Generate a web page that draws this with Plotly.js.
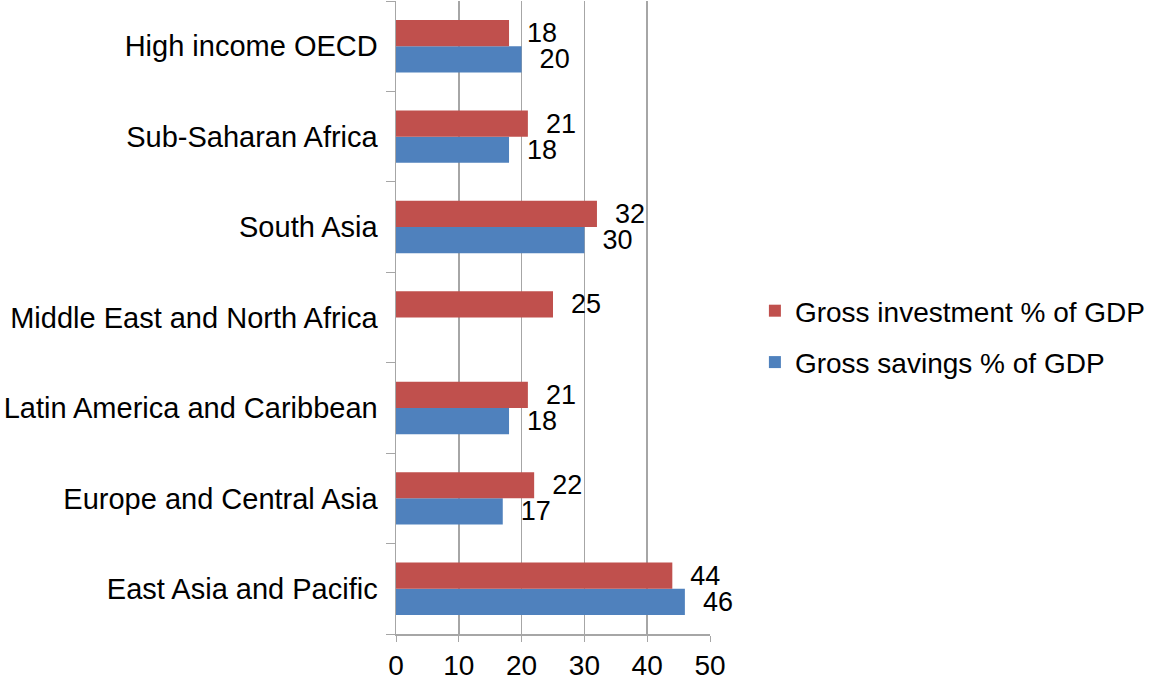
<!DOCTYPE html>
<html>
<head>
<meta charset="utf-8">
<script src="https://cdn.plot.ly/plotly-3.0.1.min.js"></script>
<style>
  html, body { margin: 0; padding: 0; background: #fff; }
  #chart { width: 1161px; height: 681px; }
</style>
</head>
<body>
<div id="chart"></div>
<script>
var regions = [
  'East Asia and Pacific',
  'Europe and Central Asia',
  'Latin America and Caribbean',
  'Middle East and North Africa',
  'South Asia',
  'Sub-Saharan Africa',
  'High income OECD'
];
var savings = [46, 17, 18, null, 30, 18, 20];
var investment = [44, 22, 21, 25, 32, 21, 18];
var xTicks = [0, 10, 20, 30, 40, 50];

var font = 'Liberation Sans, Arial, Helvetica, sans-serif';
var pad = '\u00a0\u00a0';

var savingsTrace = {
  type: 'bar',
  orientation: 'h',
  name: 'Gross savings % of GDP',
  legendgroup: 'sav',
  legendrank: 2,
  y: regions,
  x: savings,
  marker: {color: '#4F81BD'},
  text: savings.map(function(v) { return v === null ? '' : pad + v; }),
  textposition: 'outside',
  constraintext: 'none',
  cliponaxis: false,
  textfont: {family: font, size: 27, color: '#000'}
};

var investTrace = {
  type: 'bar',
  orientation: 'h',
  name: 'Gross investment % of GDP',
  legendgroup: 'inv',
  legendrank: 1,
  y: regions,
  x: investment,
  marker: {color: '#C0504D'},
  text: investment.map(function(v) { return pad + v; }),
  textposition: 'outside',
  constraintext: 'none',
  cliponaxis: false,
  textfont: {family: font, size: 27, color: '#000'}
};

var layout = {
  width: 1161,
  height: 681,
  margin: {l: 396, r: 451, t: 1, b: 47, autoexpand: false},
  paper_bgcolor: '#fff',
  plot_bgcolor: '#fff',
  font: {family: font, size: 28, color: '#000'},
  barmode: 'group',
  bargap: 0.42,
  bargroupgap: 0,
  showlegend: true,
  legend: {
    x: 1.143, xanchor: 'left',
    y: 0.47, yanchor: 'middle',
    traceorder: 'grouped',
    tracegroupgap: 12,
    font: {family: font, size: 28, color: '#000'}
  },
  xaxis: {
    range: [0, 50],
    tickvals: xTicks,
    ticktext: xTicks.map(String),
    showgrid: true,
    gridcolor: '#a6a6a6',
    gridwidth: 1.5,
    zeroline: false,
    showline: true,
    linecolor: '#a6a6a6',
    linewidth: 1.5,
    ticks: 'outside',
    ticklen: 6,
    tickcolor: '#a6a6a6',
    tickfont: {family: font, size: 28, color: '#000'},
    fixedrange: true
  },
  yaxis: {
    type: 'category',
    showgrid: false,
    showline: true,
    linecolor: '#a6a6a6',
    linewidth: 1.5,
    ticks: 'outside',
    tickson: 'boundaries',
    ticklen: 9,
    tickcolor: '#a6a6a6',
    ticklabelstandoff: 11,
    tickfont: {family: font, size: 29, color: '#000'},
    fixedrange: true
  }
};

Plotly.newPlot('chart', [savingsTrace, investTrace], layout, {displayModeBar: false, staticPlot: true});
</script>
</body>
</html>
